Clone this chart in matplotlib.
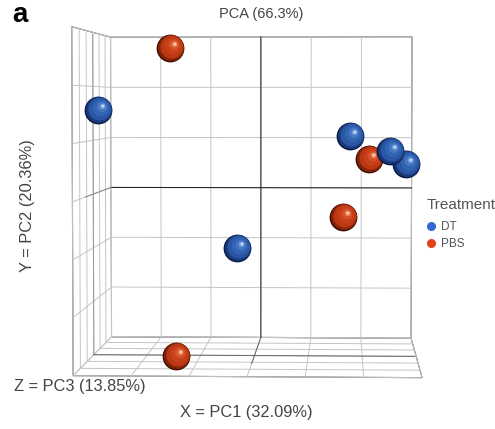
import numpy as np
import matplotlib
matplotlib.use('Agg')
import matplotlib.pyplot as plt
from matplotlib.path import Path
from matplotlib.lines import Line2D

plt.rcParams['font.family'] = ['Liberation Sans', 'DejaVu Sans']
plt.rcParams['grid.color'] = '#c4c4c4'
plt.rcParams['grid.linewidth'] = 0.7

# PCA scores per sample (PC1, PC2, PC3)
treatment = ['PBS', 'DT', 'DT', 'PBS', 'DT', 'DT', 'PBS', 'DT', 'PBS']
pc1 = [-1.67, -2.84, 1.76, 2.11, 2.48, 2.78, 1.64, -0.36, -1.36]
pc2 = [2.74, 1.57, 1.07, 0.65, 0.82, 0.59, -0.52, -1.04, -2.87]
pc3 = [-1.2, 0.6, -0.6, 0.0, 0.8, 0.5, -1.8, -0.6, 1.2]

groups = ['DT', 'PBS']
legend_colors = {'DT': '#3466d4', 'PBS': '#e0441a'}
# shades from rim to highlight, used to fake the shaded spheres
shades = {
    'DT': ['#0a1a40', '#183a7c', '#2a56a4', '#3164b2', '#4676c2',
           '#7ca2dc', '#d0e2f8'],
    'PBS': ['#420c00', '#86240a', '#bc3812', '#c8401a', '#d65228',
            '#ee8a62', '#ffd6c0'],
}
layers = [(0.0, 0.0, 1.0), (0.04, 0.04, 0.94), (0.1, 0.1, 0.82),
          (0.18, 0.18, 0.6), (0.25, 0.25, 0.38), (0.3, 0.3, 0.2),
          (0.32, 0.32, 0.09)]

lim = 3


def layer_marker(cx, cy, r):
    # leading moveto keeps the marker scale the same for every layer
    anchor = Path([[1.0, 0.0]], [Path.MOVETO])
    return Path.make_compound_path(anchor, Path.circle((cx, cy), r))


fig = plt.figure(figsize=(4.95, 4.29), dpi=100)
ax = fig.add_axes([0.1717, 0.152, 0.6667, 0.769], projection='3d',
                  computed_zorder=False)
ax.set_proj_type('persp', focal_length=1.18)
ax.view_init(elev=2.56, azim=2.45, roll=0, vertical_axis='y')
ax.set_box_aspect((1, 1, 1), zoom=1.65)
ax.set_xlim(-lim, lim)
ax.set_ylim(-lim, lim)
ax.set_zlim(-lim, lim)

ticks = np.linspace(-lim, lim, 7)
for axis, setter in ((ax.xaxis, ax.set_xticks), (ax.yaxis, ax.set_yticks),
                     (ax.zaxis, ax.set_zticks)):
    setter(ticks)
    axis.set_ticklabels([])
    axis._axinfo['tick']['inward_factor'] = 0
    axis._axinfo['tick']['outward_factor'] = 0
    axis.set_pane_color((1, 1, 1, 1))
    axis.pane.set_edgecolor('#555555')
    axis.pane.set_linewidth(0.8)
    axis.line.set_visible(False)

# darker zero lines: black on the back wall, grey on the side walls
zero_lines = [
    ([0, 0], [-lim, lim], [-lim, -lim], '#222222'),
    ([-lim, lim], [0, 0], [-lim, -lim], '#222222'),
    ([-lim, -lim], [0, 0], [-lim, lim], '#8a8a8a'),
    ([-lim, -lim], [-lim, lim], [0, 0], '#999999'),
    ([0, 0], [-lim, -lim], [-lim, lim], '#6a6a6a'),
    ([-lim, lim], [-lim, -lim], [0, 0], '#6a6a6a'),
]
for xs, ys, zs, col in zero_lines:
    ax.plot(xs, ys, zs, color=col, lw=0.75, zorder=1)

# spheres, far ones first
order = np.argsort(pc3)
zo = 2
for i in order:
    for (cx, cy, r), col in zip(layers, shades[treatment[i]]):
        sc = ax.scatter([pc1[i]], [pc2[i]], [pc3[i]], s=400,
                        marker=layer_marker(cx, cy, r), c=col, linewidths=0,
                        depthshade=False, zorder=zo)
        sc.set_clip_on(False)
        zo += 1

handles = [Line2D([], [], marker='o', ls='', color=legend_colors[g],
                  markersize=5.5) for g in groups]
leg = fig.legend(handles, groups, loc='upper left',
                 bbox_to_anchor=(426 / 495, 1 - 221 / 429), frameon=False,
                 fontsize=8.5, handlelength=0.8, handletextpad=0.5,
                 labelspacing=0.4, borderpad=0, borderaxespad=0,
                 labelcolor='#555555')
fig.text(427 / 495, 1 - 205 / 429, 'Treatment', fontsize=11,
         ha='left', va='center', color='#555555')

txt = '#444444'
fig.text(20 / 495, 1 - 15 / 429, 'a', fontsize=20, fontweight='bold',
         ha='center', va='center', color='black')
fig.text(261 / 495, 1 - 14 / 429, 'PCA (66.3%)', fontsize=10.5,
         ha='center', va='center', color=txt)
fig.text(28 / 495, 1 - 206 / 429, 'Y = PC2 (20.36%)', rotation=90,
         fontsize=11.8, ha='center', va='center', color=txt)
fig.text(80 / 495, 1 - 386 / 429, 'Z = PC3 (13.85%)', fontsize=11.8,
         ha='center', va='center', color=txt)
fig.text(246 / 495, 1 - 413 / 429, 'X = PC1 (32.09%)', fontsize=11.8,
         ha='center', va='center', color=txt)

fig.savefig('out.png', dpi=100)
